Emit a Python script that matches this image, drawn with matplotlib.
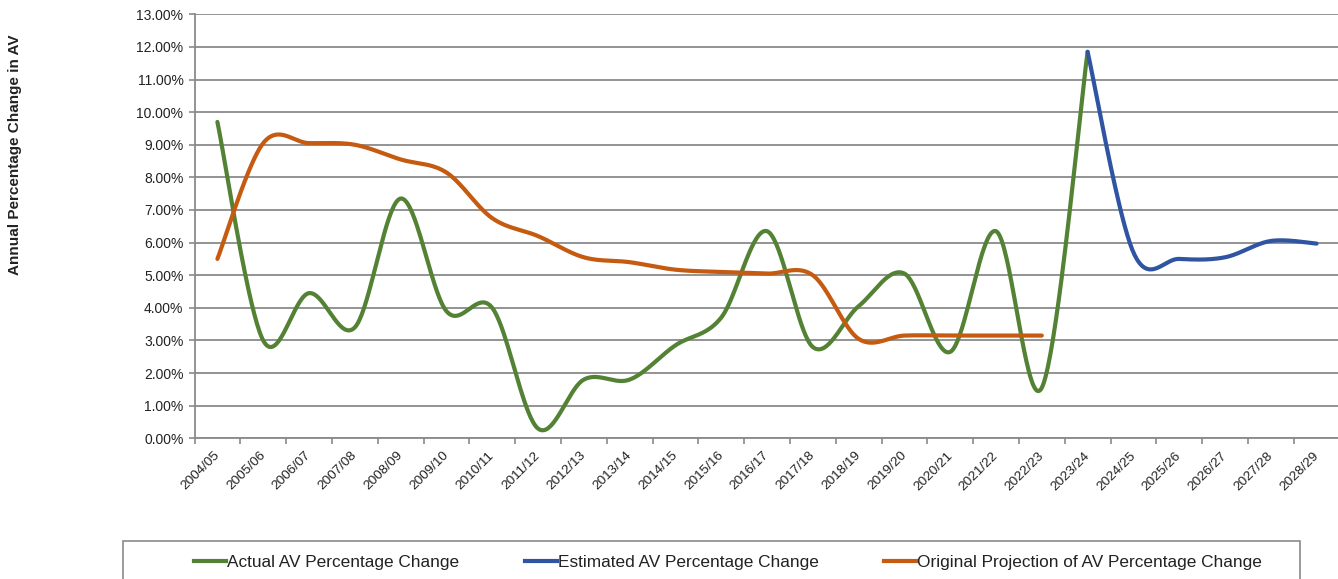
import numpy as np
import matplotlib
matplotlib.use("Agg")
import matplotlib.pyplot as plt
import matplotlib.transforms as mtrans
from matplotlib.patches import Rectangle
from matplotlib.lines import Line2D
from matplotlib.ticker import FuncFormatter, FixedLocator

plt.rcParams['font.family'] = ['Liberation Sans', 'DejaVu Sans']

categories = ["2004/05", "2005/06", "2006/07", "2007/08", "2008/09", "2009/10",
              "2010/11", "2011/12", "2012/13", "2013/14", "2014/15", "2015/16",
              "2016/17", "2017/18", "2018/19", "2019/20", "2020/21", "2021/22",
              "2022/23", "2023/24", "2024/25", "2025/26", "2026/27", "2027/28",
              "2028/29"]

# Actual AV % change: 2004/05 .. 2023/24
actual = [9.7, 3.0, 4.45, 3.4, 7.35, 3.9, 4.0, 0.3, 1.8, 1.8, 2.85, 3.7,
          6.35, 2.8, 4.05, 5.05, 2.65, 6.35, 1.55, 11.85]
# Estimated AV % change: 2023/24 .. 2028/29
estimated = [11.85, 5.7, 5.5, 5.55, 6.05, 5.97]
# Original projection: 2004/05 .. 2022/23
projection = [5.5, 9.05, 9.05, 9.0, 8.55, 8.15, 6.75, 6.2, 5.55, 5.4, 5.17,
              5.1, 5.05, 5.0, 3.05, 3.15, 3.15, 3.15, 3.15]

series_names = ["Actual AV Percentage Change", "Estimated AV Percentage Change",
                "Original Projection of AV Percentage Change"]
colors = ["#548235", "#2F55A2", "#C55A11"]


def smooth(xs, ys, n=40):
    """Excel-style smoothed line (Catmull-Rom through the points)."""
    xs = np.asarray(xs, float)
    ys = np.asarray(ys, float)
    px = np.concatenate([[xs[0]], xs, [xs[-1]]])
    py = np.concatenate([[ys[0]], ys, [ys[-1]]])
    outx, outy = [], []
    t = np.linspace(0, 1, n)
    for i in range(1, len(px) - 2):
        p0, p1, p2, p3 = (np.array([px[j], py[j]]) for j in (i - 1, i, i + 1, i + 2))
        c1 = p1 + (p2 - p0) / 6.0
        c2 = p2 - (p3 - p1) / 6.0
        b = ((1 - t) ** 3)[:, None] * p1 + (3 * (1 - t) ** 2 * t)[:, None] * c1 \
            + (3 * (1 - t) * t ** 2)[:, None] * c2 + (t ** 3)[:, None] * p2
        outx.extend(b[:, 0])
        outy.extend(b[:, 1])
    return np.array(outx), np.array(outy)


W, H = 1338, 579
fig = plt.figure(figsize=(W / 100, H / 100), dpi=100)
ax = fig.add_axes([194.5 / W, 1 - 438.3 / H, 25 * 45.8 / W, (438.3 - 14.3) / H])

x_act = np.arange(len(actual))
x_est = np.arange(len(actual) - 1, len(actual) - 1 + len(estimated))
x_proj = np.arange(len(projection))

sx, sy = smooth(x_act, actual)
ax.plot(sx, sy, color=colors[0], lw=3.0, solid_capstyle='round', zorder=3)
sx, sy = smooth(x_est, estimated)
ax.plot(sx, sy, color=colors[1], lw=3.0, solid_capstyle='round', zorder=3)
sx, sy = smooth(x_proj, projection)
ax.plot(sx, sy, color=colors[2], lw=3.0, solid_capstyle='round', zorder=3)

ax.set_xlim(-0.5, len(categories) - 0.5)
ax.set_ylim(0, 13)
ax.set_yticks(np.arange(0, 14, 1))
ax.yaxis.set_major_formatter(FuncFormatter(lambda v, p: f"{v:.2f}%"))
ax.grid(axis='y', color='#8a8a8a', lw=1.3)
ax.set_axisbelow(True)

ax.set_xticks(np.arange(len(categories)))
ax.set_xticklabels(categories, rotation=45, ha='right', va='top',
                   rotation_mode='anchor', fontsize=9.7, color='#222222')
ax.xaxis.set_minor_locator(FixedLocator(np.arange(len(categories) + 1) - 0.5))
ax.tick_params(axis='x', which='major', length=0, pad=8)
ax.tick_params(axis='x', which='minor', length=4, color='#8a8a8a', width=1.2)
ax.tick_params(axis='y', length=4, color='#8a8a8a', width=1.2, labelsize=10,
               labelcolor='#222222', pad=4)
offset = mtrans.ScaledTranslation(-4 / 100, 0, fig.dpi_scale_trans)
for lab in ax.get_xticklabels():
    lab.set_transform(lab.get_transform() + offset)

for s in ['top', 'right']:
    ax.spines[s].set_visible(False)
for s in ['left', 'bottom']:
    ax.spines[s].set_color('#8a8a8a')
    ax.spines[s].set_linewidth(1.3)

fig.text(15 / W, 1 - 155 / H, "Annual Percentage Change in AV", rotation=90,
         ha='center', va='center', fontsize=11, fontweight='bold', color='#222222')

# legend box
fig.patches.append(Rectangle((123 / W, -0.05), (1300 - 123) / W, 0.05 + (579 - 541) / H,
                             transform=fig.transFigure, fill=False,
                             edgecolor='#8a8a8a', lw=1.2))
handles = [Line2D([], [], color=c, lw=3.0) for c in colors]
fig.legend(handles, series_names, loc='center', frameon=False,
           bbox_to_anchor=(728 / W, 1 - 562.5 / H), ncol=3, fontsize=12.4,
           handlelength=1.86, handletextpad=0.05, columnspacing=3.8,
           labelcolor='#222222')

fig.savefig("out.png", dpi=100)
